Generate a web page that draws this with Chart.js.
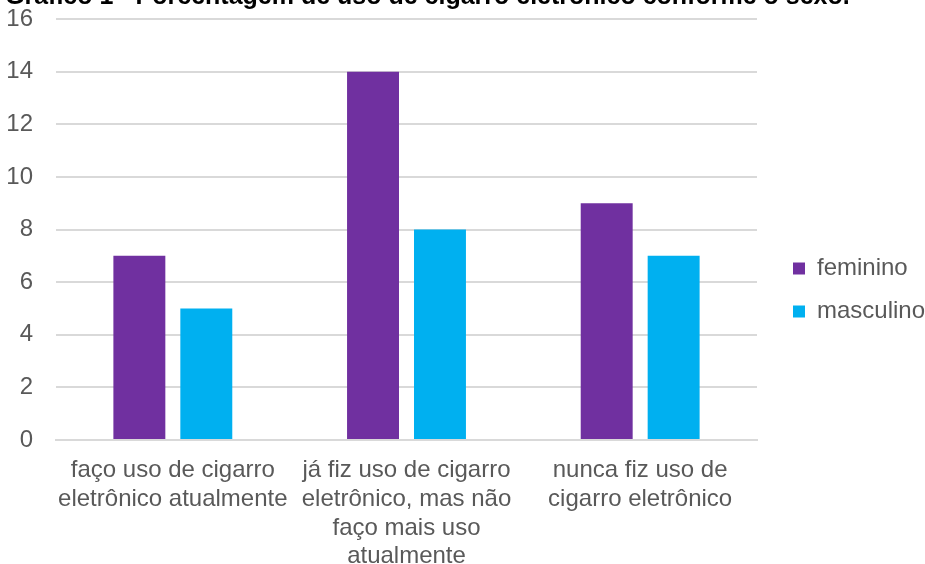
<!DOCTYPE html>
<html>
<head>
<meta charset="utf-8">
<script src="https://cdn.jsdelivr.net/npm/chart.js@4/dist/chart.umd.min.js"></script>
<style>
  html, body { margin: 0; padding: 0; background: #fff; }
  #wrap { width: 925px; height: 564px; position: relative; }
</style>
</head>
<body>
<div id="wrap"><canvas id="myChart"></canvas></div>
<script>
// chart data
const categories = [
  ['faço uso de cigarro', 'eletrônico atualmente'],
  ['já fiz uso de cigarro', 'eletrônico, mas não', 'faço mais uso', 'atualmente'],
  ['nunca fiz uso de', 'cigarro eletrônico']
];
const feminino = [7, 14, 9];
const masculino = [5, 8, 7];
const chartTitle = 'Gráfico 1 - Porcentagem de uso de cigarro eletrônico conforme o sexo.';

const FONT = '"Liberation Sans", Arial, sans-serif';

// title sits cut off at the top edge, like the original image
const titlePlugin = {
  id: 'cutTitle',
  afterDraw(chart) {
    const c = chart.ctx;
    c.save();
    c.font = 'bold 25px ' + FONT;
    c.fillStyle = '#000';
    c.textBaseline = 'alphabetic';
    c.fillText(chartTitle, 5, 4);
    c.restore();
  }
};

// legend takes a fixed strip on the right, items pushed a bit inward
const legendFix = {
  id: 'legendFix',
  beforeInit(chart) {
    const lg = chart.legend;
    if (!lg) return;
    const fit = lg.fit.bind(lg);
    lg.fit = function () { fit(); this.width = 168; };
  },
  afterLayout(chart) {
    if (!chart.legend) return;
    chart.legend.left += 17;
    chart.legend.top += 16;
  }
};

const ctx = document.getElementById('myChart').getContext('2d');
const myChart = new Chart(ctx, {
  type: 'bar',
  data: {
    labels: categories,
    datasets: [
      { label: 'feminino', data: feminino, backgroundColor: '#7030A0' },
      { label: 'masculino', data: masculino, backgroundColor: '#00B0F0' }
    ]
  },
  options: {
    responsive: true,
    maintainAspectRatio: false,
    animation: false,
    categoryPercentage: 0.573,
    barPercentage: 0.776,
    layout: { padding: 0 },
    plugins: {
      legend: {
        position: 'right',
        labels: {
          boxWidth: 12,
          boxHeight: 12,
          padding: 19,
          color: '#595959',
          font: { size: 24, family: FONT }
        }
      },
      tooltip: { enabled: false }
    },
    scales: {
      x: {
        grid: { display: false, drawTicks: false },
        border: { color: '#d9d9d9', width: 2 },
        afterFit(scale) { scale.height = 124; },
        ticks: {
          color: '#595959',
          maxRotation: 0,
          autoSkip: false,
          padding: 16,
          font: { size: 24, family: FONT, lineHeight: 1.2 }
        }
      },
      y: {
        min: 0,
        max: 16,
        afterFit(scale) { scale.width = 56; scale.paddingTop = 19; },
        ticks: {
          stepSize: 2,
          color: '#595959',
          padding: 23,
          font: { size: 24, family: FONT }
        },
        grid: { color: '#d9d9d9', lineWidth: 2, drawTicks: false },
        border: { display: false }
      }
    }
  },
  plugins: [titlePlugin, legendFix]
});
</script>
</body>
</html>
